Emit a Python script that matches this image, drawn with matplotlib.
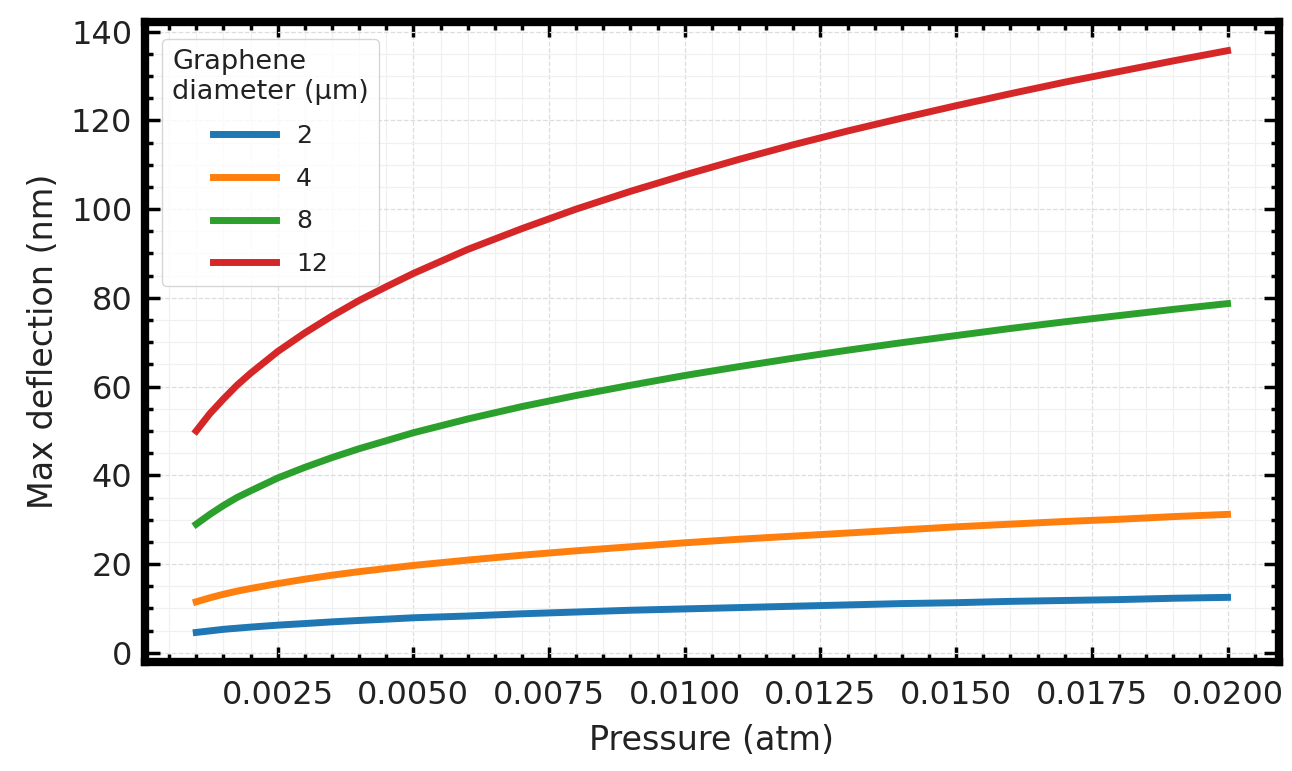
import matplotlib
matplotlib.use("Agg")
import matplotlib.pyplot as plt
from matplotlib.ticker import AutoMinorLocator

# pressure (atm)
pressure = [0.001, 0.00125, 0.0015, 0.00175, 0.002, 0.0025, 0.003, 0.0035, 0.004, 0.0045,
            0.005, 0.006, 0.007, 0.008, 0.009, 0.010, 0.011, 0.012, 0.013, 0.014,
            0.015, 0.016, 0.017, 0.018, 0.019, 0.020]

# max deflection (nm) for each graphene diameter (um)
defl_2 = [4.6, 4.95, 5.3, 5.55, 5.8, 6.24, 6.6, 6.98, 7.3, 7.59,
          7.9, 8.3, 8.8, 9.2, 9.6, 9.9, 10.2, 10.5, 10.8, 11.1,
          11.3, 11.6, 11.8, 12.0, 12.3, 12.5]
defl_4 = [11.5, 12.4, 13.2, 13.9, 14.5, 15.6, 16.6, 17.5, 18.3, 19.0,
          19.7, 20.9, 22.0, 23.0, 23.9, 24.8, 25.6, 26.3, 27.0, 27.7,
          28.4, 29.0, 29.6, 30.1, 30.7, 31.2]
defl_8 = [29.0, 31.2, 33.2, 35.0, 36.5, 39.4, 41.8, 44.0, 46.0, 47.8,
          49.6, 52.7, 55.5, 58.0, 60.3, 62.5, 64.5, 66.4, 68.2, 69.9,
          71.5, 73.1, 74.6, 76.0, 77.4, 78.7]
defl_12 = [50.0, 53.9, 57.2, 60.3, 63.0, 67.9, 72.1, 75.9, 79.4, 82.5,
           85.5, 90.9, 95.6, 100.0, 104.0, 107.7, 111.2, 114.5, 117.6, 120.5,
           123.3, 126.0, 128.6, 131.0, 133.4, 135.7]

diameters = ['2', '4', '8', '12']
series = [defl_2, defl_4, defl_8, defl_12]
colors = ['#1f77b4', '#ff7f0e', '#2ca02c', '#d62728']

fig, ax = plt.subplots(figsize=(12.92, 7.71), dpi=100)
fig.subplots_adjust(left=0.112, right=0.99, bottom=0.142, top=0.972)

for d, y, c in zip(diameters, series, colors):
    ax.plot(pressure, y, color=c, lw=5, label=d)

ax.set_xlabel('Pressure (atm)', fontsize=24, color='#222222', labelpad=10)
ax.set_ylabel('Max deflection (nm)', fontsize=24, color='#222222', labelpad=8)
ax.set_yticks([0, 20, 40, 60, 80, 100, 120, 140])
ax.set_xticks([0.0025, 0.005, 0.0075, 0.01, 0.0125, 0.015, 0.0175, 0.02])

ax.xaxis.set_minor_locator(AutoMinorLocator(5))
ax.yaxis.set_minor_locator(AutoMinorLocator(4))
ax.tick_params(which='both', direction='in', top=True, right=True)
ax.tick_params(which='major', length=11, width=2.5, labelsize=23,
               labelcolor='#222222')
ax.tick_params(axis='x', which='major', pad=13)
ax.tick_params(axis='y', which='major', pad=9)
ax.tick_params(which='minor', length=6, width=2.5)
ax.grid(which='major', ls='--', color='#dddddd', lw=0.9)
ax.grid(which='minor', ls='-', color='#f0f0f0', lw=0.9)

for sp in ax.spines.values():
    sp.set_linewidth(6)

leg = ax.legend(title='Graphene\ndiameter (µm)', loc='upper left', fontsize=18,
                title_fontsize=19.5, handlelength=2.5, labelspacing=0.75,
                borderaxespad=0.7)
leg._legend_box.align = 'center'
leg.get_title().set_multialignment('left')
leg.get_title().set_color('#222222')
for t in leg.get_texts():
    t.set_color('#222222')

fig.savefig('out.png', dpi=100)
